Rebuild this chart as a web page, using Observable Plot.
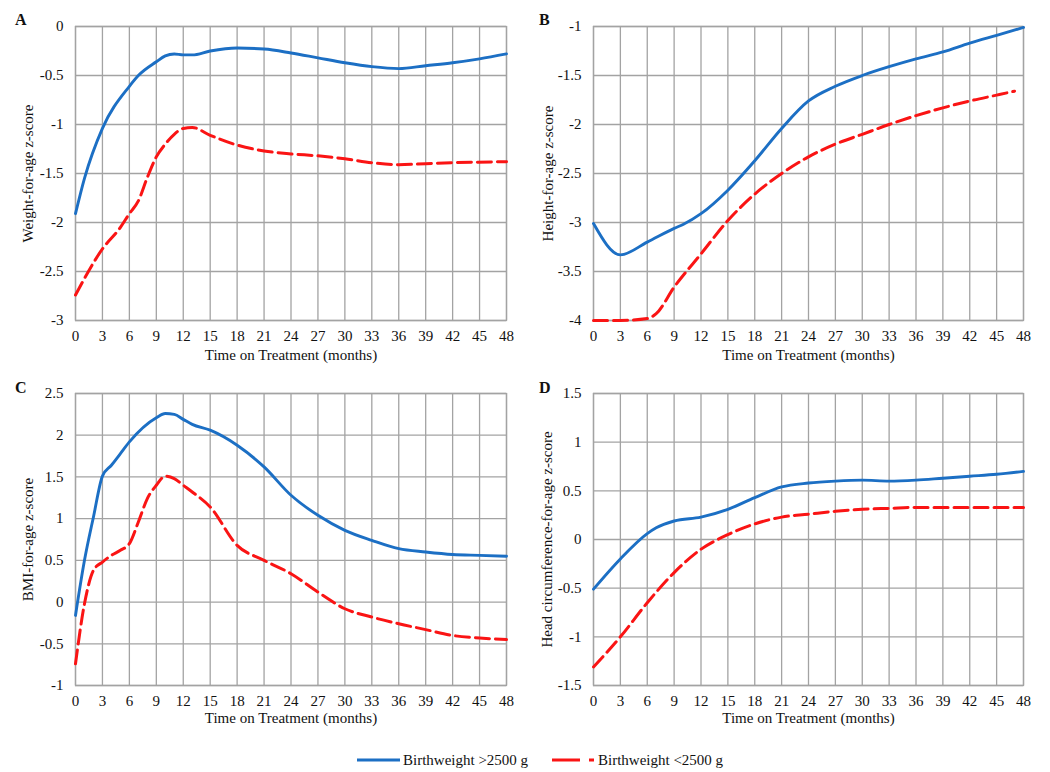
<!DOCTYPE html>
<html>
<head>
<meta charset="utf-8">
<script src="https://cdn.jsdelivr.net/npm/d3@7"></script>
<script src="https://cdn.jsdelivr.net/npm/@observablehq/plot@0.6"></script>
<style>
  html, body { margin: 0; padding: 0; background: #fff; }
  #root { position: relative; width: 1050px; height: 772px; font-family: "Liberation Serif", "DejaVu Serif", serif; color: #111; }
  #root svg, #root svg text { font-family: "Liberation Serif", "DejaVu Serif", serif !important; }
  .panel { position: absolute; }
  .letter { position: absolute; font-weight: bold; font-size: 16px; }
  #legend { position: absolute; top: 750px; left: 0; width: 1050px; height: 20px; font-size: 15px; }
  #legend .item { position: absolute; top: 0; display: flex; align-items: center; height: 20px; }
</style>
</head>
<body>
<div id="root"></div>
<script>
// ---------- Data ----------
const xTicks = [0, 3, 6, 9, 12, 15, 18, 21, 24, 27, 30, 33, 36, 39, 42, 45, 48];
const seriesNames = ["Birthweight >2500 g", "Birthweight <2500 g"];

// Panel A: Weight-for-age z-score
const aHighMonths = [0, 1, 3, 6, 7, 9, 10, 11, 12, 13, 15, 18, 21, 24, 27, 30, 33, 36, 39, 42, 45, 48];
const aHighValues = [-1.91, -1.55, -1.04, -0.61, -0.50, -0.36, -0.30, -0.28, -0.29, -0.29, -0.25, -0.22, -0.23, -0.27, -0.32, -0.37, -0.41, -0.43, -0.40, -0.37, -0.33, -0.28];
const aLowMonths = [0, 3, 5, 6, 7, 8, 9, 10, 11, 12, 13, 15, 18, 21, 24, 27, 30, 33, 36, 39, 42, 48];
const aLowValues = [-2.74, -2.27, -2.05, -1.91, -1.78, -1.54, -1.33, -1.20, -1.10, -1.04, -1.03, -1.11, -1.21, -1.27, -1.30, -1.32, -1.35, -1.39, -1.41, -1.40, -1.39, -1.38];

// Panel B: Height-for-age z-score
const bHighMonths = [0, 3, 6, 9, 10, 12, 15, 18, 21, 24, 27, 30, 33, 36, 39, 42, 45, 48];
const bHighValues = [-3.01, -3.33, -3.20, -3.06, -3.02, -2.91, -2.67, -2.37, -2.04, -1.76, -1.61, -1.50, -1.41, -1.33, -1.26, -1.17, -1.09, -1.01];
const bLowMonths = [0, 3, 6, 7, 9, 12, 15, 18, 21, 24, 27, 30, 33, 36, 39, 42, 45, 47];
const bLowValues = [-4.0, -4.0, -3.98, -3.93, -3.66, -3.32, -2.98, -2.71, -2.50, -2.33, -2.20, -2.10, -2.00, -1.91, -1.83, -1.76, -1.70, -1.66];

// Panel C: BMI-for-age z-score
const cHighMonths = [0, 1, 2, 3, 4, 5, 6, 9, 10, 11, 12, 13, 15, 18, 21, 24, 27, 30, 33, 36, 39, 42, 45, 48];
const cHighValues = [-0.16, 0.50, 1.02, 1.51, 1.64, 1.78, 1.92, 2.21, 2.26, 2.25, 2.19, 2.13, 2.06, 1.88, 1.62, 1.28, 1.04, 0.86, 0.74, 0.64, 0.60, 0.57, 0.56, 0.55];
const cLowMonths = [0, 1, 2, 3, 4, 5, 6, 7, 8, 9, 10, 11, 12, 13, 15, 18, 21, 24, 27, 30, 33, 36, 39, 42, 45, 48];
const cLowValues = [-0.74, -0.02, 0.38, 0.48, 0.56, 0.62, 0.70, 0.96, 1.24, 1.40, 1.51, 1.48, 1.40, 1.32, 1.14, 0.68, 0.50, 0.34, 0.12, -0.08, -0.18, -0.26, -0.33, -0.40, -0.43, -0.45];

// Panel D: Head circumference-for-age z-score
const dHighMonths = [0, 3, 6, 7, 9, 12, 15, 18, 21, 24, 27, 30, 33, 36, 39, 42, 45, 48];
const dHighValues = [-0.51, -0.20, 0.06, 0.12, 0.19, 0.23, 0.31, 0.43, 0.54, 0.58, 0.60, 0.61, 0.60, 0.61, 0.63, 0.65, 0.67, 0.70];
const dLowMonths = [0, 3, 6, 9, 12, 15, 18, 21, 24, 27, 30, 33, 36, 48];
const dLowValues = [-1.31, -1.00, -0.65, -0.34, -0.10, 0.05, 0.16, 0.23, 0.26, 0.29, 0.31, 0.32, 0.33, 0.33];

// ---------- Styling ----------
const BLUE = "#1c6fc4";
const RED = "#fa1414";
const GRID = "#a3a3a3";

const panels = [
  { letter: "A", left: 0, top: 0, height: 370, mt: 26, mb: 50, ml: 75, mr: 19, yDomain: [-3, 0], yTicks: [-3, -2.5, -2, -1.5, -1, -0.5, 0],
    yLabel: "Weight-for-age z-score", xLabel: "Time on Treatment (months)", labelOffsetY: 53, labelOffsetX: 39,
    high: [aHighMonths, aHighValues], low: [aLowMonths, aLowValues] },
  { letter: "B", left: 525, top: 0, height: 370, mt: 26, mb: 50, ml: 68, mr: 27, yDomain: [-4, -1], yTicks: [-4, -3.5, -3, -2.5, -2, -1.5, -1],
    yLabel: "Height-for-age z-score", xLabel: "Time on Treatment (months)", labelOffsetY: 51, labelOffsetX: 39,
    high: [bHighMonths, bHighValues], low: [bLowMonths, bLowValues] },
  { letter: "C", left: 0, top: 370, height: 360, mt: 23, mb: 45, ml: 75, mr: 19, yDomain: [-1, 2.5], yTicks: [-1, -0.5, 0, 0.5, 1, 1.5, 2, 2.5],
    yLabel: "BMI-for-age z-score", xLabel: "Time on Treatment (months)", labelOffsetY: 53, labelOffsetX: 37,
    high: [cHighMonths, cHighValues], low: [cLowMonths, cLowValues] },
  { letter: "D", left: 525, top: 370, height: 360, mt: 23, mb: 45, ml: 68, mr: 27, yDomain: [-1.5, 1.5], yTicks: [-1.5, -1, -0.5, 0, 0.5, 1, 1.5],
    yLabel: "Head circumference-for-age z-score", xLabel: "Time on Treatment (months)", labelOffsetY: 52, labelOffsetX: 37,
    high: [dHighMonths, dHighValues], low: [dLowMonths, dLowValues] }
];

const root = document.getElementById("root");

function toRows(pair) {
  const [m, v] = pair;
  return m.map((x, i) => ({ month: x, z: v[i] }));
}

for (const p of panels) {
  const hi = toRows(p.high);
  const lo = toRows(p.low);
  const chart = Plot.plot({
    width: 525,
    height: p.height,
    marginTop: p.mt,
    marginBottom: p.mb,
    marginLeft: p.ml,
    marginRight: p.mr,
    style: "font-family: 'Liberation Serif', 'DejaVu Serif', serif; font-size: 15px; color: #111; background: transparent; overflow: visible;",
    x: { domain: [0, 48], ticks: xTicks, tickSize: 0, tickPadding: 10, label: p.xLabel, labelAnchor: "center", labelOffset: p.labelOffsetX, labelArrow: "none" },
    y: { domain: p.yDomain, ticks: p.yTicks, tickSize: 0, tickPadding: 12, label: p.yLabel, labelAnchor: "center", labelOffset: p.labelOffsetY, labelArrow: "none", tickFormat: d => String(d) },
    marks: [
      Plot.gridX(xTicks, { stroke: GRID, strokeOpacity: 1, strokeWidth: 1.3 }),
      Plot.gridY(p.yTicks, { stroke: GRID, strokeOpacity: 1, strokeWidth: 1.3 }),
      Plot.frame({ stroke: GRID, strokeWidth: 1.3 }),
      Plot.line(lo, { x: "month", y: "z", stroke: RED, strokeWidth: 3, strokeDasharray: "14,6", curve: "monotone-x" }),
      Plot.line(hi, { x: "month", y: "z", stroke: BLUE, strokeWidth: 2.9, curve: "monotone-x" })
    ]
  });
  const wrap = document.createElement("div");
  wrap.className = "panel";
  wrap.style.left = p.left + "px";
  wrap.style.top = p.top + "px";
  wrap.appendChild(chart);
  root.appendChild(wrap);

  const letter = document.createElement("div");
  letter.className = "letter";
  letter.textContent = p.letter;
  letter.style.left = (p.left + (p.left === 0 ? 15 : 14)) + "px";
  letter.style.top = (p.top + (p.top === 0 ? 11 : 9)) + "px";
  root.appendChild(letter);
}

// ---------- Legend ----------
const legend = document.createElement("div");
legend.id = "legend";
legend.innerHTML = `
  <div class="item" style="left:357px">
    <svg width="44" height="20"><line x1="0" y1="10" x2="43" y2="10" stroke="${BLUE}" stroke-width="3"/></svg>
    <span style="margin-left:2px">${seriesNames[0]}</span>
  </div>
  <div class="item" style="left:552px">
    <svg width="44" height="20"><line x1="0" y1="10" x2="42" y2="10" stroke="${RED}" stroke-width="3.2" stroke-dasharray="28,9"/></svg>
    <span style="margin-left:2px">${seriesNames[1]}</span>
  </div>`;
root.appendChild(legend);
</script>
</body>
</html>
